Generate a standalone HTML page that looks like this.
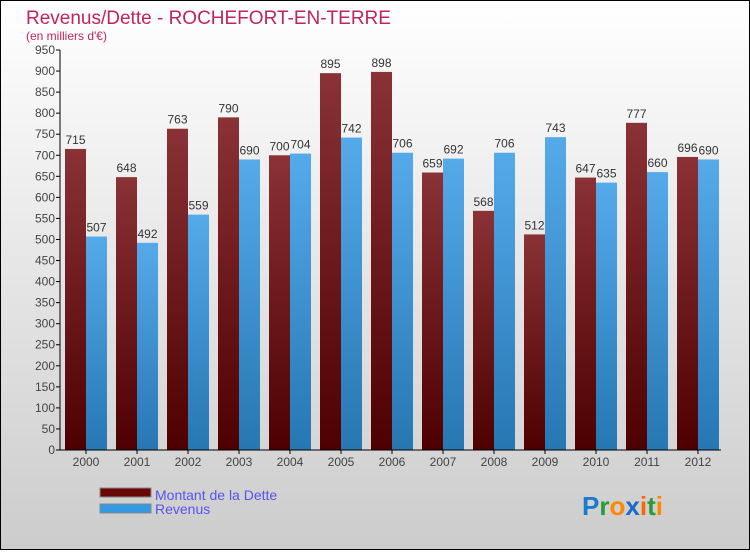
<!DOCTYPE html>
<html><head><meta charset="utf-8"><style>
body{margin:0}
svg text{font-family:"Liberation Sans",sans-serif}
</style></head><body>
<svg width="750" height="550" xmlns="http://www.w3.org/2000/svg">
<defs>
<linearGradient id="bg" x1="0" y1="0" x2="0" y2="1"><stop offset="0" stop-color="#ffffff"/><stop offset="1" stop-color="#cccccc"/></linearGradient>
<linearGradient id="gd" x1="0" y1="0" x2="0" y2="1"><stop offset="0" stop-color="#8a3236"/><stop offset="1" stop-color="#4e0000"/></linearGradient>
<linearGradient id="gr" x1="0" y1="0" x2="0" y2="1"><stop offset="0" stop-color="#55aaea"/><stop offset="1" stop-color="#2677b2"/></linearGradient>
</defs>
<rect x="0.5" y="0.5" width="749" height="549" fill="url(#bg)" stroke="#000"/>
<text x="26" y="24" font-size="19" fill="#c0245e">Revenus/Dette - ROCHEFORT-EN-TERRE</text>
<text x="26" y="40" font-size="12" fill="#c0245e">(en milliers d'€)</text>
<g id="yaxis"></g>
<g id="bars"></g>
<g id="xaxis"></g>
<g>
<rect x="100" y="488" width="51" height="9" fill="#6a0808" stroke="#888"/>
<text x="155" y="500" font-size="14" fill="#5555ee">Montant de la Dette</text>
<rect x="100" y="504" width="51" height="9" fill="#3399e0" stroke="#888"/>
<text x="155" y="514" font-size="14" fill="#5555ee">Revenus</text>
</g>
<text x="582" y="515" font-size="26" font-weight="bold"><tspan fill="#1a7acc">P</tspan><tspan fill="#2a9a3a">r</tspan><tspan fill="#ff8800">o</tspan><tspan fill="#1a6acc">x</tspan><tspan fill="#ff6600">i</tspan><tspan fill="#2a9a3a">t</tspan><tspan fill="#ff8800">i</tspan></text>
</svg>
<script>
const years=["2000","2001","2002","2003","2004","2005","2006","2007","2008","2009","2010","2011","2012"];
const dette=[715,648,763,790,700,895,898,659,568,512,647,777,696];
const revenus=[507,492,559,690,704,742,706,692,706,743,635,660,690];
const yTicks=[0,50,100,150,200,250,300,350,400,450,500,550,600,650,700,750,800,850,900,950];
const NS="http://www.w3.org/2000/svg";
const y0=450,yMax=950,pxH=400,x0=65,step=51,bw=21;
const ys=v=>y0-v/yMax*pxH;
function mk(t,a,p){const e=document.createElementNS(NS,t);for(const k in a)e.setAttribute(k,a[k]);p.appendChild(e);return e;}
const ya=document.getElementById('yaxis'),ba=document.getElementById('bars'),xa=document.getElementById('xaxis');
mk('line',{x1:60,y1:50,x2:60,y2:450,stroke:'#000'},ya);
yTicks.forEach(v=>{const y=ys(v);
mk('line',{x1:56,y1:y,x2:60,y2:y,stroke:'#000'},ya);
const t=mk('text',{x:55,y:y+4,'font-size':12,'text-anchor':'end',fill:'#444'},ya);t.textContent=v;

});
mk('line',{x1:60,y1:450,x2:721,y2:450,stroke:'#000'},xa);
years.forEach((yr,i)=>{const gx=x0+i*step;
const r1=mk('rect',{x:gx,y:ys(dette[i]),width:bw,height:y0-ys(dette[i]),fill:'url(#gd)'},ba);


const r2=mk('rect',{x:gx+bw,y:ys(revenus[i]),width:bw,height:y0-ys(revenus[i]),fill:'url(#gr)'},ba);


const l1=mk('text',{x:gx+bw/2,y:ys(dette[i])-5,'font-size':12,'text-anchor':'middle',fill:'#333'},ba);l1.textContent=dette[i];


const l2=mk('text',{x:gx+bw*1.5,y:ys(revenus[i])-5,'font-size':12,'text-anchor':'middle',fill:'#333'},ba);l2.textContent=revenus[i];


mk('line',{x1:gx+bw,y1:450,x2:gx+bw,y2:454,stroke:'#000'},xa);
const xt=mk('text',{x:gx+bw,y:466,'font-size':12,'text-anchor':'middle',fill:'#444'},xa);xt.textContent=yr;

});
</script>
</body></html>
